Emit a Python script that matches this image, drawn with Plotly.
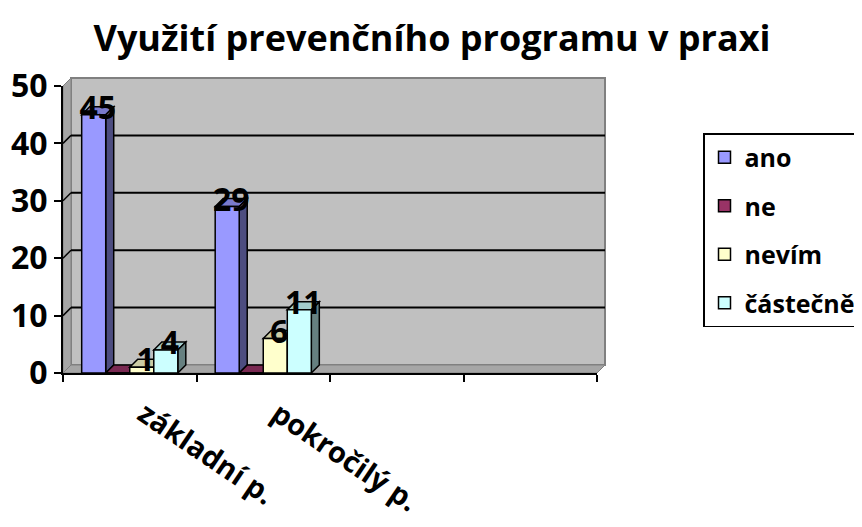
import plotly.graph_objects as go

# ---- data ----
categories = ["základní p.", "pokročilý p."]
n_slots = 4  # two empty category slots follow the labelled ones
series_names = ["ano", "ne", "nevím", "částečně"]
ano = [45, 29]
ne = [0, 0]
nevim = [1, 6]
castecne = [4, 11]
values = [ano, ne, nevim, castecne]
y_ticks = [0, 10, 20, 30, 40, 50]

# ---- styles ----
front_colors = ["#9999FF", "#993366", "#FFFFCC", "#CCFFFF"]
top_colors = ["#7A7ACC", "#7A2952", "#CCCCA3", "#A3CCCC"]
side_colors = ["#4D4D80", "#4D1A33", "#808066", "#668080"]
FONT = "Open Sans"
W, H = 862, 527
OFF = 8  # page body margin in the browser
# target on-screen geometry, converted to figure coordinates
L, R, T, B = 63 - OFF, 597 - OFF, 86 - OFF, 373 - OFF
plot_w, plot_h = R - L, B - T
DX, DY = 8, 8  # 3-D depth in pixels
y_max = 50
bargap = 0.28

px_per_cat = plot_w / n_slots
px_per_unit = plot_h / y_max
dxc = DX / px_per_cat
dyu = DY / px_per_unit
dxp = DX / plot_w
dyp = DY / plot_h

fig = go.Figure()
x_idx = list(range(len(categories)))
n_ser = len(values)
bw = (1 - bargap) / n_ser

shapes = []
# back wall, side wall, floor
shapes.append(dict(type="rect", xref="paper", yref="paper", x0=dxp, x1=1 + dxp, y0=dyp, y1=1 + dyp,
                   fillcolor="#C0C0C0", line=dict(color="#808080", width=2), layer="below"))
shapes.append(dict(type="path", xref="paper", yref="paper",
                   path=f"M0,0 L{dxp},{dyp} L{dxp},{1+dyp} L0,1 Z",
                   fillcolor="#A6A6A6", line=dict(color="#808080", width=1), layer="below"))
shapes.append(dict(type="path", xref="paper", yref="paper",
                   path=f"M0,0 L1,0 L{1+dxp},{dyp} L{dxp},{dyp} Z",
                   fillcolor="#A6A6A6", line=dict(color="#808080", width=1), layer="below"))
# gridlines on the back wall
for v in y_ticks[1:-1]:
    yv = v / y_max
    shapes.append(dict(type="line", xref="paper", yref="paper", x0=dxp, x1=1 + dxp,
                       y0=yv + dyp, y1=yv + dyp, line=dict(color="black", width=2), layer="below"))
    shapes.append(dict(type="line", xref="paper", yref="paper", x0=0, x1=dxp,
                       y0=yv, y1=yv + dyp, line=dict(color="black", width=1.5), layer="below"))

label_x, label_y, label_t = [], [], []
for i, (name, vals) in enumerate(zip(series_names, values)):
    fig.add_trace(go.Bar(
        x=x_idx, y=vals, name=name, marker_color=front_colors[i],
        marker_line_color="black", marker_line_width=1.5,
        legendgroup=str(i), hoverinfo="x+y",
    ))
    for c, v in zip(x_idx, vals):
        xl = c - (1 - bargap) / 2 + i * bw
        xr = xl + bw
        # top face
        shapes.append(dict(type="path", xref="x", yref="y",
                           path=f"M{xl},{v} L{xr},{v} L{xr+dxc},{v+dyu} L{xl+dxc},{v+dyu} Z",
                           fillcolor=top_colors[i], line=dict(color="black", width=1.5), layer="below"))
        # side face
        if v > 0:
            shapes.append(dict(type="path", xref="x", yref="y",
                               path=f"M{xr},0 L{xr+dxc},{dyu} L{xr+dxc},{v+dyu} L{xr},{v} Z",
                               fillcolor=side_colors[i], line=dict(color="black", width=1.5), layer="below"))
        if v != 0:
            label_x.append(xl + bw / 2 + dxc / 2)
            label_y.append(v + dyu / 2)
            label_t.append(str(v))

fig.add_trace(go.Scatter(
    x=label_x, y=label_y, mode="text", text=label_t, textposition="middle center",
    textfont=dict(family=FONT, size=32, color="black", weight="bold"),
    showlegend=False, cliponaxis=False, hoverinfo="skip",
))

fig.update_layout(
    width=W, height=H,
    paper_bgcolor="white", plot_bgcolor="rgba(0,0,0,0)",
    margin=dict(l=L, r=W - R, t=T, b=H - B, autoexpand=False),
    barmode="group", bargap=bargap, bargroupgap=0,
    shapes=shapes,
    title=dict(text="<b>Využití prevenčního programu v praxi</b>",
               x=(432 - OFF) / W, xanchor="center", xref="container",
               y=1 - (38 - OFF) / H, yref="container", yanchor="middle",
               font=dict(family=FONT, size=36, color="black")),
    font=dict(family=FONT, color="black"),
    showlegend=True,
    legend=dict(x=(703 - OFF - L) / plot_w, y=(B - (133 - OFF)) / plot_h,
                xanchor="left", yanchor="top",
                bgcolor="white", bordercolor="black", borderwidth=1.5,
                font=dict(family=FONT, size=25, color="black", weight="bold"),
                tracegroupgap=13, traceorder="grouped"),
)
fig.update_xaxes(
    range=[-0.5, n_slots - 0.5], tickvals=x_idx, ticktext=categories,
    ticks="", showline=True, linecolor="black", linewidth=2,
    minor=dict(tickvals=[k - 0.5 for k in range(n_slots + 1)], ticks="outside", ticklen=7,
               tickcolor="black", tickwidth=1.5, showgrid=False),
    tickangle=34, ticklabelstandoff=11, ticklabelshift=14,
    tickfont=dict(family=FONT, size=29, color="black", weight="bold"),
    showgrid=False, zeroline=False, fixedrange=True,
)
fig.update_yaxes(
    range=[0, y_max], tickvals=y_ticks, ticks="outside", ticklen=7, tickcolor="black", tickwidth=1.5,
    showline=True, linecolor="black", linewidth=2,
    showgrid=False, zeroline=False,
    tickfont=dict(family=FONT, size=32, color="black", weight="bold"),
)
fig.write_html("out.html")
